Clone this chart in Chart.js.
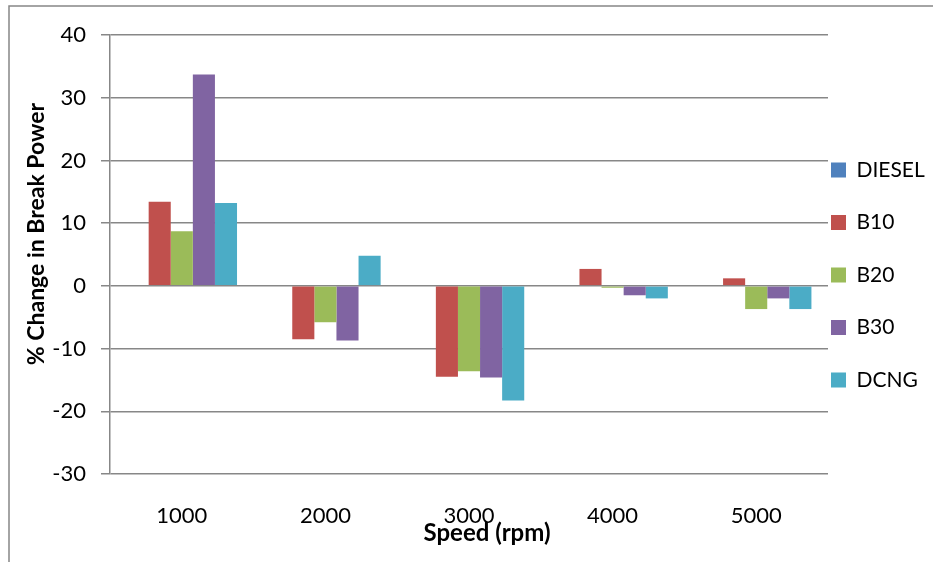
<!DOCTYPE html>
<html>
<head>
<meta charset="utf-8">
<script src="https://cdn.jsdelivr.net/npm/chart.js@4/dist/chart.umd.min.js"></script>
<style>
  html, body { margin: 0; padding: 0; background: #fff; }
  #wrap { width: 933px; height: 562px; }
</style>
</head>
<body>
<div id="wrap"><canvas id="grafico" width="933" height="562"></canvas></div>
<script>
// datos: % de cambio en potencia al freno por combustible
const speeds = ['1000', '2000', '3000', '4000', '5000'];
const diesel = [0, 0, 0, 0, 0];
const b10 = [13.4, -8.5, -14.5, 2.7, 1.2];
const b20 = [8.7, -5.8, -13.6, -0.3, -3.7];
const b30 = [33.7, -8.7, -14.6, -1.5, -2.0];
const dcng = [13.2, 4.8, -18.3, -2.0, -3.7];
const yTicks = [40, 30, 20, 10, 0, -10, -20, -30];

const grisEje = '#878787';
const fuente = 'Lato, "Open Sans", sans-serif';

// marco exterior, títulos de ejes y ajuste de la leyenda
const marco = {
  id: 'marco',
  beforeLayout(chart) {
    // la leyenda sólo reserva 105px a la derecha
    const lg = chart.legend;
    if (lg && !lg._anchoFijo) {
      const fitOrig = lg.fit.bind(lg);
      lg.fit = function () { fitOrig(); this.width = 105; };
      lg._anchoFijo = true;
    }
  },
  afterLayout(chart) {
    // acercar la leyenda al área de trazado y subirla un poco
    const lg = chart.legend;
    lg.left = 799.5;
    lg.width = 140;
    lg.right = lg.left + lg.width;
    lg.top -= 23.5;
    lg.bottom -= 23.5;
  },
  afterDraw(chart) {
    const ctx = chart.ctx;
    ctx.save();
    ctx.strokeStyle = grisEje;
    ctx.lineWidth = 1.5;
    ctx.beginPath();
    ctx.moveTo(9, 562);
    ctx.lineTo(9, 6);
    ctx.lineTo(933, 6);
    ctx.stroke();

    ctx.fillStyle = '#000';
    ctx.font = 'bold 24px ' + fuente;
    ctx.textAlign = 'center';
    ctx.textBaseline = 'middle';
    ctx.fillText('Speed (rpm)', 487, 533);

    ctx.font = 'bold 23px ' + fuente;
    ctx.translate(37, 234);
    ctx.rotate(-Math.PI / 2);
    ctx.fillText('% Change in Break Power', 0, 0);
    ctx.restore();
  }
};

const ctx = document.getElementById('grafico').getContext('2d');
new Chart(ctx, {
  type: 'bar',
  data: {
    labels: speeds,
    datasets: [
      { label: 'DIESEL', data: diesel, backgroundColor: '#4F81BD' },
      { label: 'B10', data: b10, backgroundColor: '#C0504D' },
      { label: 'B20', data: b20, backgroundColor: '#9BBB59' },
      { label: 'B30', data: b30, backgroundColor: '#8064A2' },
      { label: 'DCNG', data: dcng, backgroundColor: '#4BACC6' }
    ]
  },
  options: {
    responsive: false,
    animation: false,
    devicePixelRatio: 1,
    layout: { padding: { left: 10, top: 35, right: 0, bottom: 0 } },
    datasets: {
      bar: { categoryPercentage: 5 / 6.5, barPercentage: 1 }
    },
    plugins: {
      tooltip: { enabled: false },
      legend: {
        position: 'right',
        labels: {
          boxWidth: 15,
          boxHeight: 15,
          padding: 31.5,
          color: '#000',
          font: { family: fuente, size: 21 }
        }
      }
    },
    scales: {
      x: {
        grid: { display: false, drawTicks: false },
        border: { display: false },
        ticks: { color: '#000', padding: 29, font: { family: fuente, size: 22 } },
        afterFit(scale) { scale.height = 88; }
      },
      y: {
        min: -30,
        max: 40,
        afterBuildTicks(scale) { scale.ticks = yTicks.map(v => ({ value: v })); },
        grid: { color: grisEje, lineWidth: 1.5, tickLength: 9 },
        border: { color: grisEje, width: 1.5 },
        ticks: { color: '#000', padding: 15, font: { family: fuente, size: 22 } },
        afterFit(scale) { scale.width = 100; }
      }
    }
  },
  plugins: [marco]
});
</script>
</body>
</html>
